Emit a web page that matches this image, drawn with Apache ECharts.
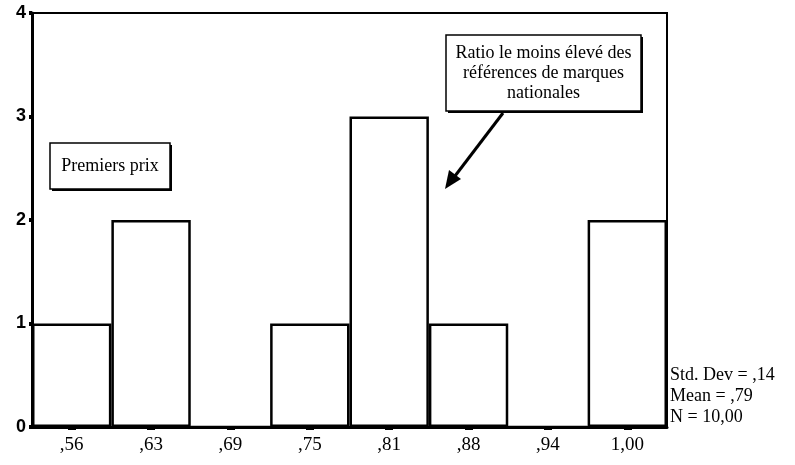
<!DOCTYPE html>
<html>
<head>
<meta charset="utf-8">
<script src="https://cdn.jsdelivr.net/npm/echarts@6/dist/echarts.min.js"></script>
<style>
  html, body { margin: 0; padding: 0; background: #fff; }
  #main { width: 795px; height: 465px; }
</style>
</head>
<body>
<div id="main"></div>
<script>
// classes de l'histogramme et effectifs
var categories = [",56", ",63", ",69", ",75", ",81", ",88", ",94", "1,00"];
var counts = [1, 2, 0, 1, 3, 1, 0, 2];
var statsLines = ["Std. Dev = ,14", "Mean = ,79", "N = 10,00"];
var noteRatio = "Ratio le moins élevé des\nréférences de marques\nnationales";
var notePrix = "Premiers prix";

var serif = "Liberation Serif";

// boite avec ombre (bord épais en bas / à droite)
function noteBox(x, y, w, h, text, fs, lh) {
  return [
    { type: "rect", shape: { x: x + 2, y: y + 2, width: w, height: h }, style: { fill: "#000" } },
    { type: "rect", shape: { x: x, y: y, width: w, height: h }, style: { fill: "#fff", stroke: "#000", lineWidth: 1.5 } },
    {
      type: "text", x: x + w / 2, y: y + h / 2,
      style: { text: text, fontFamily: serif, fontSize: fs, fill: "#000", align: "center", verticalAlign: "middle", lineHeight: lh }
    }
  ];
}

let myChart = echarts.init(document.getElementById("main"));

let option = {
  animation: false,
  grid: {
    left: 32, right: 128, top: 13, bottom: 38,
    show: true, borderColor: "#000", borderWidth: 2
  },
  xAxis: {
    type: "category",
    data: categories,
    boundaryGap: true,
    axisLine: { lineStyle: { color: "#000", width: 3 } },
    axisTick: { show: true, alignWithLabel: true, length: 3, lineStyle: { color: "#000", width: 8 } },
    axisLabel: { color: "#000", fontFamily: serif, fontSize: 19, margin: 9 }
  },
  yAxis: {
    type: "value",
    min: 0, max: 4, interval: 1,
    splitLine: { show: false },
    axisLine: { show: true, lineStyle: { color: "#000", width: 3 } },
    axisTick: { show: true, length: 3, lineStyle: { color: "#000", width: 4 } },
    axisLabel: { color: "#000", fontFamily: "Liberation Sans", fontWeight: "bold", fontSize: 18, margin: 6 }
  },
  series: [
    {
      type: "bar",
      data: counts,
      barCategoryGap: "0%",
      itemStyle: { color: "#fff", borderColor: "#000", borderWidth: 2.5 }
    }
  ],
  graphic: [].concat(
    noteBox(446, 35, 195, 76, noteRatio, 18, 20),
    noteBox(50, 143, 120, 46, notePrix, 18, 20),
    [
      { type: "line", shape: { x1: 503, y1: 113, x2: 455, y2: 176 }, style: { stroke: "#000", lineWidth: 3 } },
      { type: "polygon", shape: { points: [[445, 189], [449, 170], [461, 179]] }, style: { fill: "#000" } },
      {
        type: "text", left: 670, top: 365,
        style: { text: statsLines.join("\n"), fontFamily: serif, fontSize: 18, lineHeight: 21, fill: "#000" }
      }
    ]
  )
};

myChart.setOption(option);
</script>
</body>
</html>
